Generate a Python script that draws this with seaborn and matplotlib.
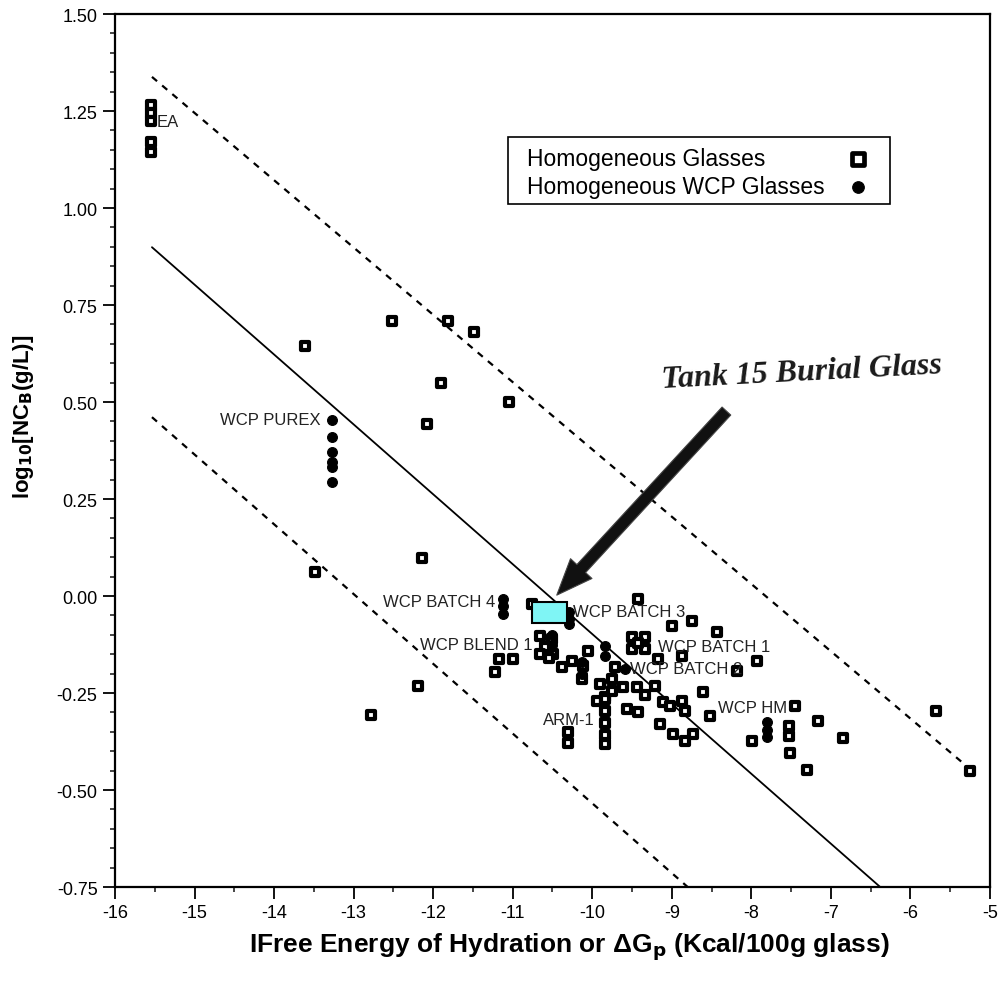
import matplotlib
matplotlib.use("Agg")
import matplotlib.pyplot as plt
import seaborn as sns
import pandas as pd
import numpy as np
from matplotlib.patches import Rectangle
from matplotlib.ticker import MultipleLocator, FormatStrFormatter

# ---------------- data ----------------
sq_x = [-15.55, -15.55, -15.55, -15.55, -15.55,
        -13.61, -12.52, -11.81, -11.49, -11.90, -12.08, -11.05,
        -12.14, -13.49, -12.19, -12.78, -11.22, -11.17, -11.00, -10.76,
        -10.66, -10.51, -10.59, -10.49, -10.66, -10.55,
        -10.38, -10.25, -10.05, -10.12, -10.13,
        -9.90, -9.75, -9.84, -9.71, -9.75, -9.94,
        -9.50, -9.34, -9.50, -9.34, -9.42,
        -9.43, -9.00, -8.75, -8.43, -8.87, -7.93, -9.17, -8.18,
        -9.61, -9.44, -9.34, -9.21, -8.61,
        -9.84, -9.84, -9.84, -9.84, -9.84,
        -9.56, -9.43, -9.11, -9.02, -8.87, -8.83, -9.15,
        -8.99, -8.83, -8.73, -8.52, -7.99, -7.45, -7.16,
        -7.53, -7.53, -7.51, -7.30, -6.85, -5.68, -5.25,
        -10.31, -10.31]
sq_y = [1.265, 1.245, 1.225, 1.170, 1.145,
        0.644, 0.709, 0.709, 0.680, 0.549, 0.443, 0.500,
        0.098, 0.062, -0.232, -0.307, -0.196, -0.162, -0.162, -0.021,
        -0.103, -0.111, -0.131, -0.149, -0.149, -0.160,
        -0.183, -0.168, -0.142, -0.180, -0.214,
        -0.227, -0.214, -0.260, -0.183, -0.245, -0.271,
        -0.106, -0.106, -0.137, -0.137, -0.120,
        -0.008, -0.077, -0.064, -0.093, -0.155, -0.168, -0.162, -0.193,
        -0.235, -0.235, -0.255, -0.232, -0.247,
        -0.265, -0.296, -0.327, -0.358, -0.381,
        -0.291, -0.299, -0.273, -0.284, -0.271, -0.296, -0.330,
        -0.356, -0.374, -0.356, -0.309, -0.374, -0.284, -0.322,
        -0.335, -0.361, -0.405, -0.448, -0.366, -0.296, -0.451,
        -0.351, -0.379]

circ_x = [-13.27, -13.27, -13.27, -13.27, -13.27, -13.27,
          -11.12, -11.12, -11.12,
          -10.29, -10.29, -10.29,
          -10.50, -10.50,
          -10.13, -10.13,
          -9.84, -9.84,
          -9.59,
          -7.80, -7.80, -7.80]
circ_y = [0.454, 0.410, 0.371, 0.345, 0.332, 0.294,
          -0.008, -0.026, -0.046,
          -0.041, -0.058, -0.072,
          -0.100, -0.125,
          -0.170, -0.200,
          -0.129, -0.155,
          -0.188,
          -0.325, -0.345, -0.363]

# regression line and bounds (endpoints)
fit_x = [-15.535, -6.38]
fit_y = [0.899, -0.75]
upper_x = [-15.535, -5.25]
upper_y = [1.338, -0.446]
lower_x = [-15.535, -8.80]
lower_y = [0.461, -0.75]

# Tank 15 burial glass region
tank_x = [-10.76, -10.32]
tank_y = [-0.070, -0.015]

labels = ["EA", "WCP PUREX", "WCP BATCH 4", "WCP BATCH 3", "WCP BLEND 1",
          "WCP BATCH 1", "WCP BATCH 2", "WCP HM", "ARM-1"]
label_x = [-15.48, -13.42, -11.22, -10.24, -12.17, -9.17, -9.53, -8.42, -10.62]
label_y = [1.222, 0.454, -0.015, -0.041, -0.124, -0.131, -0.188, -0.286, -0.317]
label_ha = ["left", "right", "right", "left", "left", "left", "left", "left", "left"]

legend_labels = ["Homogeneous Glasses", "Homogeneous WCP Glasses"]

arrow_tail = (-8.29, 0.482)
arrow_head = (-10.47, -0.003)

x_ticks = list(range(-16, -4))
y_ticks = [-0.75, -0.50, -0.25, 0.00, 0.25, 0.50, 0.75, 1.00, 1.25, 1.50]

# ---------------- plot ----------------
sns.set_style("ticks")
plt.rcParams['font.family'] = ['Liberation Sans', 'DejaVu Sans']
plt.rcParams['axes.unicode_minus'] = False
plt.rcParams['text.color'] = 'black'
plt.rcParams['axes.labelcolor'] = 'black'

fig = plt.figure(figsize=(9.98, 9.95), dpi=100)
ax = fig.add_axes([0.1152, 0.1075, 0.8768, 0.8774])

sq_df = pd.DataFrame({"x": sq_x, "y": sq_y})
ci_df = pd.DataFrame({"x": circ_x, "y": circ_y})

sq_kw = dict(marker="s", facecolor="white", edgecolor="black")
ci_kw = dict(marker="o", color="black", edgecolor="black")

sns.scatterplot(data=sq_df, x="x", y="y", ax=ax, s=36, linewidth=3.0,
                legend=False, zorder=3, **sq_kw)
sns.scatterplot(data=ci_df, x="x", y="y", ax=ax, s=50, linewidth=0.8,
                legend=False, zorder=3, **ci_kw)

ax.plot(fit_x, fit_y, color="black", lw=1.3, zorder=2)
ax.plot(upper_x, upper_y, color="black", lw=1.6, ls=(0, (3, 3)), zorder=2)
ax.plot(lower_x, lower_y, color="black", lw=1.6, ls=(0, (3, 3)), zorder=2)

ax.add_patch(Rectangle((tank_x[0], tank_y[0]), tank_x[1] - tank_x[0],
                       tank_y[1] - tank_y[0], facecolor="#7ff5f5",
                       edgecolor="black", lw=1.5, zorder=4))

for t, lx, ly, ha in zip(labels, label_x, label_y, label_ha):
    ax.text(lx, ly, t, ha=ha, va="center", fontsize=12, color="#222222", zorder=5)

ax.annotate("", xy=arrow_head, xytext=arrow_tail,
            arrowprops=dict(arrowstyle="simple,head_length=2.6,head_width=2.1,tail_width=0.85",
                            mutation_scale=10, facecolor="#111111",
                            edgecolor="#444444", lw=0.8), zorder=6)
ax.text(-7.36, 0.578, "Tank 15 Burial Glass", fontsize=23, fontstyle="italic",
        fontweight="bold", family=["Liberation Serif", "DejaVu Serif"],
        ha="center", va="center", rotation=3, color="#1a1a1a")

# legend box (text left, marker right)
ax.add_patch(Rectangle((0.449, 0.782), 0.437, 0.077, transform=ax.transAxes,
                       facecolor="white", edgecolor="black", lw=1.2, zorder=7))
leg_y = [0.834, 0.802]
ax.text(0.471, leg_y[0], legend_labels[0], transform=ax.transAxes, fontsize=16.5,
        ha="left", va="center", zorder=8)
ax.text(0.471, leg_y[1], legend_labels[1], transform=ax.transAxes, fontsize=16.5,
        ha="left", va="center", zorder=8)
ax.scatter([0.849], [leg_y[0]], transform=ax.transAxes, s=70, linewidth=3.4,
           zorder=8, clip_on=False, **sq_kw)
ax.scatter([0.849], [leg_y[1]], transform=ax.transAxes, s=70, linewidth=0.8,
           zorder=8, clip_on=False, **ci_kw)

ax.set_xlim(-16, -5)
ax.set_ylim(-0.75, 1.5)
ax.set_xticks(x_ticks)
ax.set_yticks(y_ticks)
ax.xaxis.set_minor_locator(MultipleLocator(0.5))
ax.yaxis.set_minor_locator(MultipleLocator(0.05))
ax.yaxis.set_major_formatter(FormatStrFormatter('%.2f'))
ax.tick_params(axis="both", which="major", direction="out", length=8.5,
               width=1.3, labelsize=13, colors="black", pad=4)
ax.tick_params(axis="both", which="minor", direction="out", length=3.6, width=1.2)
ax.tick_params(top=False, right=False, which="both")
for sp in ax.spines.values():
    sp.set_visible(True)
    sp.set_linewidth(1.6)
    sp.set_color("black")

ax.set_xlabel("IFree Energy of Hydration or \u0394G$_\\mathbf{p}$ (Kcal/100g glass)",
              fontsize=19, fontweight="bold", color="black")
ax.xaxis.set_label_coords(0.519, -0.068)
ax.set_ylabel("log$_\\mathbf{10}$[NC$_\\mathbf{B}$(g/L)]", fontsize=16,
              fontweight="bold", color="black")
ax.yaxis.set_label_coords(-0.105, 0.54)
ax.xaxis.label.set_va("center")
ax.yaxis.label.set_va("center")

fig.savefig("out.png", dpi=100, facecolor="white")
